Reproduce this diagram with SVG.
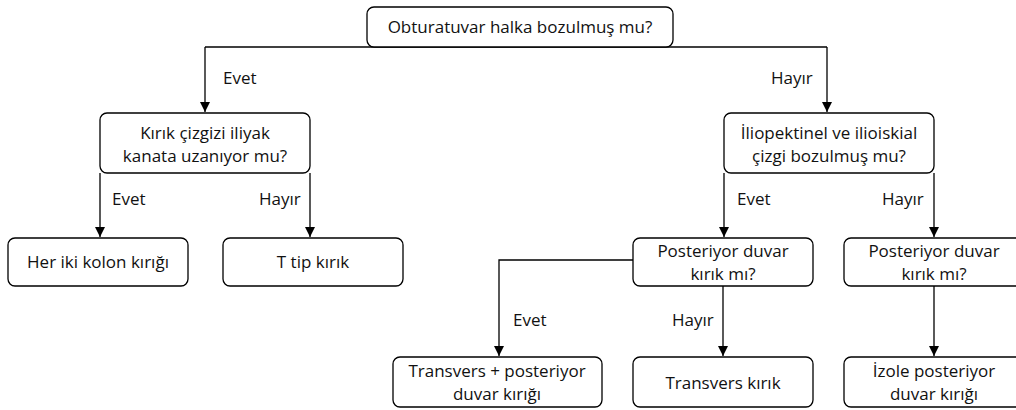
<svg xmlns="http://www.w3.org/2000/svg" width="1016" height="410" viewBox="0 0 1016 410">
<style>
.box{fill:#fff;stroke:#000;stroke-width:1.3}
.t{font-family:"Open Sans","Noto Sans",sans-serif;font-size:17px;fill:#111;text-anchor:middle}
.l{font-family:"Open Sans","Noto Sans",sans-serif;font-size:17px;fill:#111}
.c{fill:none;stroke:#000;stroke-width:1.3}
</style>
<defs>
<marker id="ah" markerWidth="10" markerHeight="12" refX="10" refY="5" orient="auto" markerUnits="userSpaceOnUse" viewBox="0 0 10 10">
<path d="M0,0 L10,5 L0,10 Z" fill="#000"/>
</marker>
</defs>
<g id="connectors">
<path class="c" d="M205,47 H827"/>
<path class="c" d="M205,47 V112" marker-end="url(#ah)"/>
<path class="c" d="M827,47 V112" marker-end="url(#ah)"/>
<path class="c" d="M100,173 V237" marker-end="url(#ah)"/>
<path class="c" d="M310,173 V237" marker-end="url(#ah)"/>
<path class="c" d="M724,173 V237" marker-end="url(#ah)"/>
<path class="c" d="M934,173 V237" marker-end="url(#ah)"/>
<path class="c" d="M633,260 H499 V356" marker-end="url(#ah)"/>
<path class="c" d="M723,286 V356" marker-end="url(#ah)"/>
<path class="c" d="M934,286 V356" marker-end="url(#ah)"/>
<text class="l" x="223" y="84">Evet</text>
<text class="l" x="771" y="84">Hayır</text>
<text class="l" x="112" y="205">Evet</text>
<text class="l" x="259" y="205">Hayır</text>
<text class="l" x="737" y="205">Evet</text>
<text class="l" x="882" y="205">Hayır</text>
<text class="l" x="513" y="326">Evet</text>
<text class="l" x="672" y="326">Hayır</text>
</g>
<g id="n1"><rect class="box" x="367" y="7" width="306" height="40" rx="7"/><text class="t" x="520" y="33">Obturatuvar halka bozulmuş mu?</text></g>
<g id="n2"><rect class="box" x="100" y="113" width="210" height="60" rx="7"/><text class="t" x="205" y="139">Kırık çizgizi iliyak</text><text class="t" x="205" y="162">kanata uzanıyor mu?</text></g>
<g id="n3"><rect class="box" x="724" y="113" width="210" height="60" rx="7"/><text class="t" x="829" y="139">İliopektinel ve ilioiskial</text><text class="t" x="829" y="162">çizgi bozulmuş mu?</text></g>
<g id="n4"><rect class="box" x="8" y="238" width="180" height="48" rx="7"/><text class="t" x="98" y="268">Her iki kolon kırığı</text></g>
<g id="n5"><rect class="box" x="223" y="238" width="180" height="48" rx="7"/><text class="t" x="313" y="268">T tip kırık</text></g>
<g id="n6"><rect class="box" x="633" y="238" width="180" height="48" rx="7"/><text class="t" x="723" y="257">Posteriyor duvar</text><text class="t" x="723" y="280">kırık mı?</text></g>
<g id="n7"><rect class="box" x="844" y="238" width="180" height="48" rx="7"/><text class="t" x="934" y="257">Posteriyor duvar</text><text class="t" x="934" y="280">kırık mı?</text></g>
<g id="n8"><rect class="box" x="393" y="357" width="209" height="50" rx="7"/><text class="t" x="497" y="377">Transvers + posteriyor</text><text class="t" x="497" y="400">duvar kırığı</text></g>
<g id="n9"><rect class="box" x="633" y="357" width="180" height="50" rx="7"/><text class="t" x="723" y="389">Transvers kırık</text></g>
<g id="n10"><rect class="box" x="844" y="357" width="180" height="50" rx="7"/><text class="t" x="934" y="377">İzole posteriyor</text><text class="t" x="934" y="400">duvar kırığı</text></g>
</svg>
